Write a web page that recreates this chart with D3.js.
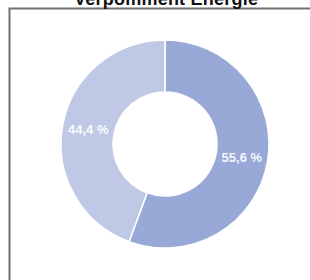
<!DOCTYPE html>
<html><head><meta charset="utf-8">
<script src="https://cdn.jsdelivr.net/npm/d3@7"></script>
<style>html,body{margin:0;padding:0;background:#fff;overflow:hidden}</style>
</head><body>
<svg id="c" width="310" height="280"></svg>
<script>
const title = "Verpomment Energie";
const categories = ["A", "B"];
const values = [55.6, 44.4];
const labels = ["55,6 %", "44,4 %"];
const colors = ["#98a9d8", "#bfc9e5"];

const svg = d3.select("#c");
svg.append("rect").attr("x", 9.5).attr("y", 8.5).attr("width", 320).attr("height", 300)
  .attr("fill", "#fff").attr("stroke", "#707070").attr("stroke-width", 2);
svg.append("text").attr("x", 166).attr("y", 5).attr("text-anchor", "middle")
  .attr("font-family", "Liberation Sans, Arial, sans-serif").attr("font-weight", "bold")
  .attr("font-size", 18).attr("textLength", 184).attr("fill", "#111").text(title);

const cx = 165, cy = 144, rO = 104, rI = 52;
const pie = d3.pie().sort(null).value(d => d)(values);
const arc = d3.arc().innerRadius(rI).outerRadius(rO);
const g = svg.append("g").attr("transform", `translate(${cx},${cy})`);
g.selectAll("path").data(pie).join("path")
  .attr("d", arc).attr("fill", (d, i) => colors[i])
  .attr("stroke", "#fff").attr("stroke-width", 1.5);
g.selectAll("text").data(pie).join("text")
  .attr("transform", d => { const c = arc.centroid(d); return `translate(${c[0]},${c[1] + 4})`; })
  .attr("text-anchor", "middle")
  .attr("font-family", "Liberation Sans, Arial, sans-serif").attr("font-weight", "bold")
  .attr("font-size", 13).attr("fill", "#fff").attr("fill-opacity", 0.92)
  .text((d, i) => labels[i]);
</script>
</body></html>
